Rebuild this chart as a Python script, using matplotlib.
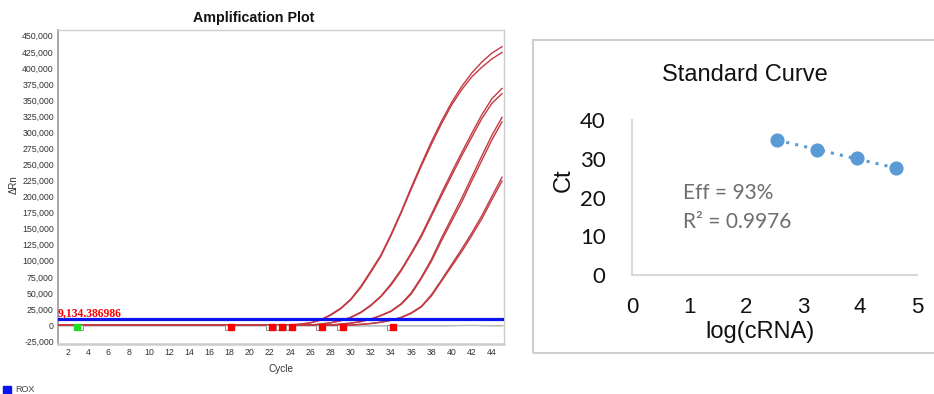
import numpy as np
import matplotlib
matplotlib.use("Agg")
import matplotlib.pyplot as plt
from matplotlib.patches import Rectangle
from matplotlib.ticker import FuncFormatter, MultipleLocator

# amplification data, delta Rn in thousands, cycles 1..45
cycles = list(range(1, 46))
zeros = lambda n: [0.0] * n

rep_1a = zeros(24) + [1.5, 3.5, 8, 16, 26, 40, 60, 84, 109, 141, 176, 214, 250, 285, 317,
                      346, 371, 392, 409, 423, 433]
rep_1b = zeros(24) + [1.3, 3.2, 7.5, 15, 25, 39, 58, 82, 107, 139, 174, 211, 247, 281, 313,
                      342, 366, 386, 401, 414, 424]
rep_2a = zeros(26) + [1.5, 3.5, 7, 12, 20, 31, 45, 64, 86, 112, 140, 172, 205, 237, 268,
                      298, 327, 352, 368]
rep_2b = zeros(26) + [1.4, 3.3, 6.6, 11.5, 19, 30, 44, 62, 84, 110, 137, 169, 201, 232, 263,
                      292, 321, 345, 360]
rep_3a = zeros(28) + [1.5, 3, 5.5, 9.5, 15, 22, 33, 50, 74, 102, 135, 166, 197, 230, 263,
                      295, 323]
rep_3b = zeros(28) + [1.4, 2.8, 5.2, 9, 14.5, 21, 32, 48, 72, 99, 131, 161, 191, 224, 256,
                      288, 316]
rep_4a = zeros(30) + [1, 2.5, 4.5, 7.5, 12, 19, 29, 47, 70, 94, 118, 143, 170, 200, 230]
rep_4b = zeros(30) + [1, 2.3, 4.3, 7.2, 11.5, 18, 28, 45, 68, 91, 114, 139, 165, 195, 224]
amp_curves = [rep_1a, rep_1b, rep_2a, rep_2b, rep_3a, rep_3b, rep_4a, rep_4b]

ntc = [-1.5] * 39 + [-1.3, -0.8, -0.6, -1.0, -1.4, -1.5]

threshold = 9134.386986
green_marks = [2.9]
open_marks = [3.2, 17.7, 21.8, 22.8, 23.8, 26.8, 28.8, 33.8]
red_marks = [18.1, 22.2, 23.2, 24.2, 27.2, 29.2, 34.2]
mark_level = -2500

# standard curve
log_crna = [2.55, 3.25, 3.95, 4.64]
ct = [34.8, 32.3, 30.1, 27.5]
eff_text = "Eff = 93%"
r2_text = "R\u00b2 = 0.9976"

fig = plt.figure(figsize=(9.34, 3.94), dpi=100, facecolor="white")

# ---- amplification plot ----
ax = fig.add_axes([0.0621, 0.1269, 0.4775, 0.797])
ax.axhline(0, color="#c0c0c0", lw=0.8, zorder=1)
ax.plot(cycles, np.array(ntc) * 1000, color="#b8b8b8", lw=0.9, zorder=2)
for vals in amp_curves:
    ax.plot(cycles, np.array(vals) * 1000, color="#c23a44", lw=1.0, zorder=3)
ax.axhline(threshold, color="#0a14f0", lw=2.3, zorder=4)

ax.plot(open_marks, [mark_level] * len(open_marks), "s", ms=3.6, mfc="white",
        mec="#909090", mew=0.7, zorder=5)
ax.plot(red_marks, [mark_level] * len(red_marks), "s", ms=3.8, color="#ff0000", zorder=6)
ax.plot(green_marks, [mark_level] * len(green_marks), "s", ms=3.8, color="#22dd22", zorder=6)

ax.annotate(f"{threshold:,.6f}", xy=(1, threshold), xytext=(0, 2.2),
            textcoords="offset points", va="baseline", ha="left", color="red",
            fontfamily="Liberation Serif", fontweight="bold", fontsize=8.4, zorder=7)

ax.set_xlim(1, 45.2)
ax.set_ylim(-29500, 459000)
ax.xaxis.set_major_locator(MultipleLocator(2))
ax.set_xticks(range(2, 45, 2))
ax.set_yticks(range(-25000, 450001, 25000))
ax.yaxis.set_major_formatter(FuncFormatter(lambda v, p: f"{int(v):,}"))
ax.tick_params(length=0, labelsize=6.3, labelcolor="#333333", pad=3)
for lab in ax.get_xticklabels() + ax.get_yticklabels():
    lab.set_fontfamily("Liberation Sans")
ax.set_xlabel("Cycle", fontsize=7.2, color="#333333", fontfamily="Liberation Sans", labelpad=5)
fig.text(14 / 934, 1 - 185 / 394, "\u0394Rn", rotation=90, ha="center", va="center",
         fontsize=7, color="#333333", fontfamily="Liberation Sans")
for side in ["top", "right"]:
    ax.spines[side].set_color("#cccccc")
    ax.spines[side].set_linewidth(1.0)
ax.spines["bottom"].set_color("#cccccc")
ax.spines["bottom"].set_linewidth(1.8)
ax.spines["left"].set_color("#9a9a9a")
ax.spines["left"].set_linewidth(1.2)

fig.text(254 / 934, 1 - 18 / 394, "Amplification Plot", ha="center", va="center",
         fontsize=10.3, fontweight="bold", fontfamily="Liberation Sans", color="#111111")

# ROX legend
fig.patches.append(Rectangle((2.5 / 934, 1 - 394 / 394), 8 / 934, 8 / 394,
                             transform=fig.transFigure, color="#0a14f0"))
fig.text(15 / 934, 1 - 390 / 394, "ROX", ha="left", va="center", fontsize=6.5,
         color="#444444", fontfamily="Liberation Sans")

# ---- standard curve ----
fig.patches.append(Rectangle((533 / 934, 1 - 353 / 394), 420 / 934, 313 / 394,
                             transform=fig.transFigure, fill=False, ec="#cfcfcf", lw=1.5))

bx = fig.add_axes([0.6767, 0.302, 0.3051, 0.3934])
slope, intercept = np.polyfit(log_crna, ct, 1)
fit_x = np.array([min(log_crna), max(log_crna)])
bx.plot(fit_x, slope * fit_x + intercept, color="#5b9bd5", lw=2.2,
        linestyle=(0, (1, 2)), zorder=2)
bx.plot(log_crna, ct, "o", color="#5b9bd5", ms=9.2, zorder=3)
bx.set_xlim(0, 5)
bx.set_ylim(0, 40)
bx.set_xticks(range(0, 6))
bx.set_yticks(range(0, 41, 10))
bx.tick_params(axis="x", length=0, labelsize=16, pad=16, labelcolor="#111111")
bx.tick_params(axis="y", length=0, labelsize=16, pad=19, labelcolor="#111111")
for lab in bx.get_xticklabels():
    lab.set_fontfamily("Liberation Sans")
for lab in bx.get_yticklabels():
    lab.set_fontfamily("Lato")
for side in ["top", "right"]:
    bx.spines[side].set_visible(False)
for side in ["left", "bottom"]:
    bx.spines[side].set_color("#d9d9d9")
    bx.spines[side].set_linewidth(1.5)

bx.text(0.895, 21.2, eff_text, va="center", ha="left", fontsize=15, color="#6e6e6e",
        fontfamily="Lato")
bx.text(0.895, 13.7, r2_text, va="center", ha="left", fontsize=15, color="#6e6e6e",
        fontfamily="Lato")

fig.text(745 / 934, 1 - 75 / 394, "Standard Curve", ha="center", va="center",
         fontsize=17, color="#111111", fontfamily="Liberation Sans")
fig.text(760 / 934, 1 - 332 / 394, "log(cRNA)", ha="center", va="center",
         fontsize=17, color="#111111", fontfamily="Liberation Sans")
fig.text(564 / 934, 1 - 180 / 394, "Ct", ha="center", va="center", rotation=90,
         fontsize=17, color="#111111", fontfamily="Liberation Sans")

fig.savefig("out.png", dpi=100, facecolor="white")
